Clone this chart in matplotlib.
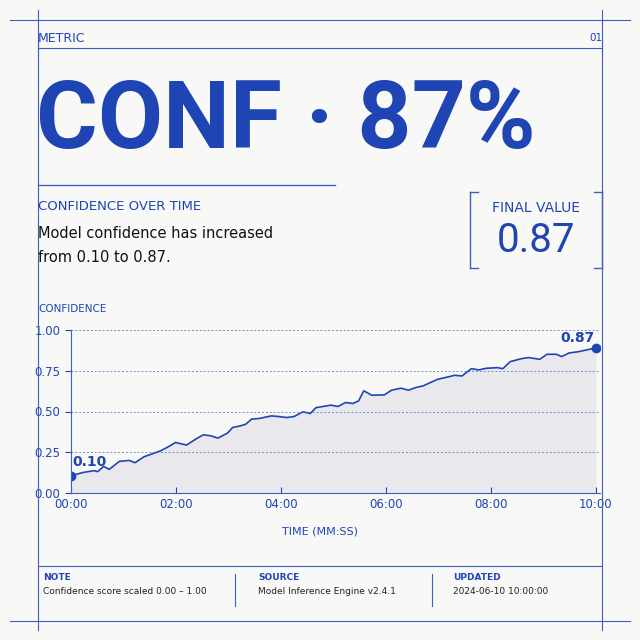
import matplotlib
matplotlib.use("Agg")
import matplotlib.pyplot as plt
import numpy as np

t_min = [0.00,0.23,0.44,0.51,0.62,0.73,0.92,1.11,1.22,1.39,1.57,1.71,1.89,1.99,2.20,2.38,2.52,2.66,2.80,2.98,
         3.08,3.23,3.33,3.44,3.58,3.82,3.96,4.11,4.25,4.42,4.56,4.67,4.81,4.95,5.09,5.23,5.37,5.48,5.58,5.73,
         5.97,6.11,6.29,6.43,6.57,6.71,6.85,6.99,7.13,7.31,7.45,7.63,7.77,7.91,8.12,8.23,8.37,8.58,8.72,8.93,
         9.07,9.25,9.35,9.49,9.67,10.0]
conf = [0.106,0.126,0.137,0.131,0.163,0.145,0.194,0.200,0.186,0.222,0.243,0.259,0.290,0.310,0.294,0.331,0.357,0.351,0.337,0.367,
        0.402,0.412,0.422,0.453,0.457,0.473,0.469,0.463,0.469,0.498,0.488,0.524,0.531,0.539,0.531,0.555,0.549,0.565,0.627,0.600,
        0.602,0.631,0.643,0.631,0.647,0.657,0.678,0.698,0.708,0.722,0.718,0.763,0.755,0.765,0.769,0.763,0.806,0.824,0.831,0.820,
        0.851,0.851,0.837,0.859,0.867,0.89]
xticks = [0,2,4,6,8,10]
xticklabels = ["00:00","02:00","04:00","06:00","08:00","10:00"]
yticks = [0,0.25,0.5,0.75,1.0]

BLUE = "#1f45b5"
BG = "#f8f8f6"
LINE = "#3d5fc0"

fig = plt.figure(figsize=(6.4,6.4), dpi=100, facecolor=BG)
def px(x, y): return (x/640, 1-y/640)

def hline(x0,x1,y,lw=1.0,c=LINE):
    fig.add_artist(plt.Line2D([x0/640,x1/640],[1-y/640,1-y/640],color=c,lw=lw))
def vline(x,y0,y1,lw=1.0,c=LINE):
    fig.add_artist(plt.Line2D([x/640,x/640],[1-y0/640,1-y1/640],color=c,lw=lw))

vline(38,10,630,0.8); vline(602,10,630,0.8)
hline(10,630,20,0.8); hline(10,630,621,0.8)
hline(38,602,48,0.8)
vline(38,40,56,0.8); vline(602,40,56,0.8)
fig.text(*px(38,38), "METRIC", color=BLUE, fontsize=9, va="center")
fig.text(*px(602,38), "01", color=BLUE, fontsize=7.5, va="center", ha="right")
fig.text(*px(36,122), "CONF · 87%", color=BLUE, fontsize=68, fontweight="bold", va="center", family="Roboto")
hline(38,335,185,1.0)
fig.text(*px(38,207), "CONFIDENCE OVER TIME", color=BLUE, fontsize=9.5, va="center")
fig.text(*px(38,234), "Model confidence has increased", color="#111", fontsize=10.5, va="center")
fig.text(*px(38,257), "from 0.10 to 0.87.", color="#111", fontsize=10.5, va="center")
for x, d in [(470,8),(602,-8)]:
    vline(x,192,268,1.0)
    hline(x,x+d,192,1.0); hline(x,x+d,268,1.0)
fig.text(*px(536,208), "FINAL VALUE", color=BLUE, fontsize=10, va="center", ha="center")
fig.text(*px(536,241), "0.87", color=BLUE, fontsize=29, va="center", ha="center", family="Roboto")

ax = fig.add_axes([71/640, 1-493/640, 529/640, 163/640])
ax.set_facecolor("none")
ax.fill_between(t_min, conf, 0, color="#e4e5ea", alpha=0.75, lw=0)
ax.plot(t_min, conf, color=BLUE, lw=1.2)
ax.plot([t_min[0], t_min[-1]], [conf[0], conf[-1]], "o", color=BLUE, ms=6)
ax.text(t_min[0]+0.02, conf[0]+0.04, "0.10", color=BLUE, fontsize=10, fontweight="bold", va="bottom")
ax.text(t_min[-1]-0.02, conf[-1]+0.02, "0.87", color=BLUE, fontsize=10, fontweight="bold", va="bottom", ha="right")
ax.set_xlim(0, 10.08); ax.set_ylim(0, 1.0)
ax.set_xticks(xticks); ax.set_xticklabels(xticklabels)
ax.set_yticks(yticks); ax.set_yticklabels([f"{v:.2f}" for v in yticks])
ax.tick_params(colors=BLUE, labelsize=8.5, length=4, direction="out")
ax.tick_params(axis="x", direction="in")
for s in ["top","right"]: ax.spines[s].set_visible(False)
for s in ["left","bottom"]: ax.spines[s].set_color(LINE)
for v in yticks[1:]:
    ax.axhline(v, color=LINE, lw=0.7, ls=(0,(2,2)), alpha=0.7)
fig.text(*px(38,309), "CONFIDENCE", color=BLUE, fontsize=7.5, va="center")
fig.text(*px(320,532), "TIME (MM:SS)", color=BLUE, fontsize=8, va="center", ha="center")

hline(38,602,566,0.8)
vline(235,574,606,0.8); vline(432,574,606,0.8)
for x, h, b in [(43,"NOTE","Confidence score scaled 0.00 – 1.00"),
                (258,"SOURCE","Model Inference Engine v2.4.1"),
                (453,"UPDATED","2024-06-10 10:00:00")]:
    fig.text(*px(x,578), h, color=BLUE, fontsize=6.5, va="center", fontweight="bold")
    fig.text(*px(x,592), b, color="#222", fontsize=6.5, va="center")

fig.savefig("out.png", dpi=100, facecolor=BG)
